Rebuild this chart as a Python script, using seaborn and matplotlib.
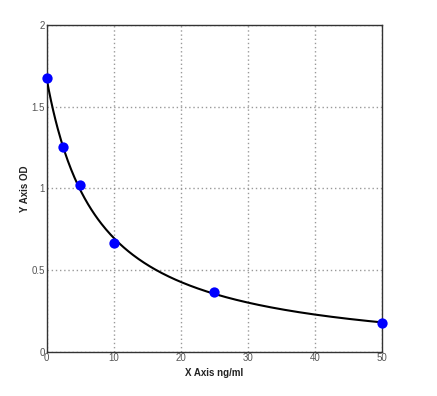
import numpy as np
import pandas as pd
import matplotlib
matplotlib.use("Agg")
import matplotlib.pyplot as plt
import seaborn as sns

# Standard points
conc = [0, 2.5, 5, 10, 25, 50]
od = [1.675, 1.255, 1.02, 0.665, 0.365, 0.18]

x_ticks = [0, 10, 20, 30, 40, 50]
y_ticks = [0, 0.5, 1, 1.5, 2]
y_tick_labels = ["0", "0.5", "1", "1.5", "2"]
x_label = "X Axis ng/ml"
y_label = "Y Axis OD"

sns.set_theme(style="white")
plt.rcParams['font.family'] = ['Liberation Sans', 'DejaVu Sans']

# Fit a hyperbolic curve y = (a + b x) / (1 + c x) by linear least squares
xa = np.array(conc, dtype=float)
ya = np.array(od, dtype=float)
A = np.column_stack([np.ones_like(xa), xa, -xa * ya])
a, b, c = np.linalg.lstsq(A, ya, rcond=None)[0]
xf = np.linspace(0, 50, 300)
yf = (a + b * xf) / (1 + c * xf)
fit = pd.DataFrame({"x": xf, "y": yf})
pts = pd.DataFrame({"x": conc, "y": od})

fig = plt.figure(figsize=(4.37, 3.96), dpi=100)
ax = fig.add_axes([46.5 / 437, 1 - 352 / 396, (382 - 46.5) / 437, (352 - 25) / 396])

sns.lineplot(data=fit, x="x", y="y", ax=ax, color="black", linewidth=1.5, zorder=3)
sns.scatterplot(data=pts, x="x", y="y", ax=ax, color="#0000ff", s=55,
                edgecolor="#0000ff", linewidth=0, zorder=4, clip_on=False)

ax.set_xlim(0, 50)
ax.set_ylim(0, 2)
ax.set_xticks(x_ticks)
ax.set_yticks(y_ticks)
ax.set_yticklabels(y_tick_labels)
ax.grid(True, linestyle=(0, (1, 2)), color="#999999", linewidth=1.0)
ax.tick_params(axis="both", length=0, labelsize=7, colors="#555555", pad=1)
for s in ax.spines.values():
    s.set_color("#333333")
    s.set_linewidth(1.0)

ax.set_xlabel(x_label, fontsize=7, fontweight="bold", color="#222222", labelpad=3)
ax.set_ylabel(y_label, fontsize=7, fontweight="bold", color="#222222", labelpad=1)

fig.savefig("out.png", dpi=100)
